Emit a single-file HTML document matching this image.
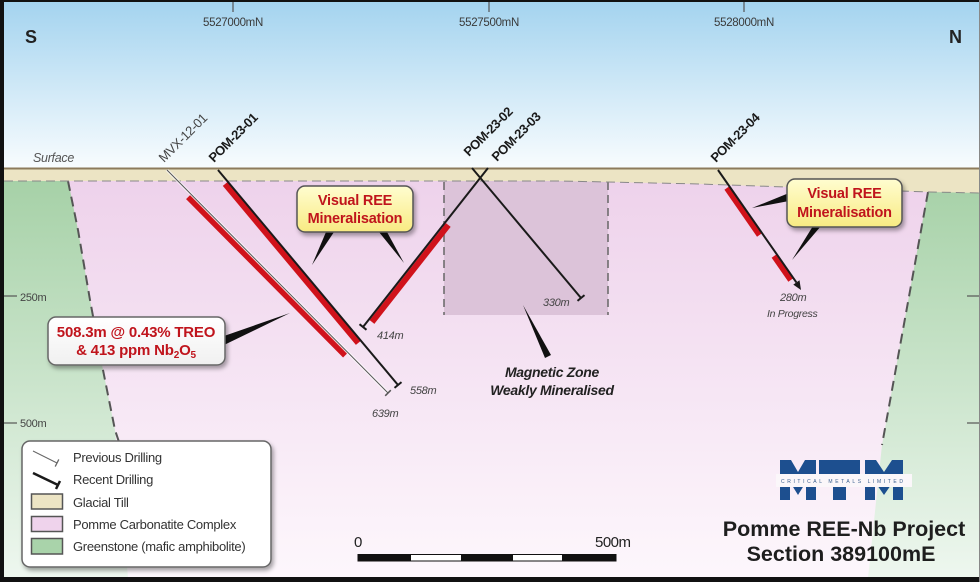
<!DOCTYPE html>
<html><head><meta charset="utf-8"><style>
html,body{margin:0;padding:0;background:#fff;}
svg{display:block;font-family:"Liberation Sans",Arial,sans-serif;}
</style></head><body>
<svg width="980" height="582" viewBox="0 0 980 582" xmlns="http://www.w3.org/2000/svg">
<defs>
<linearGradient id="sky" gradientUnits="userSpaceOnUse" x1="0" y1="0" x2="0" y2="168"><stop offset="0" stop-color="#a3d3ef"/><stop offset="1" stop-color="#f8fcfe"/></linearGradient>
<linearGradient id="pink" gradientUnits="userSpaceOnUse" x1="0" y1="180" x2="0" y2="577"><stop offset="0" stop-color="#eed2eb"/><stop offset="1" stop-color="#fdf7fc"/></linearGradient>
<linearGradient id="green" gradientUnits="userSpaceOnUse" x1="0" y1="180" x2="0" y2="577"><stop offset="0" stop-color="#a6d1a7"/><stop offset="1" stop-color="#eef7ef"/></linearGradient>
<linearGradient id="yel" x1="0" y1="0" x2="0" y2="1"><stop offset="0" stop-color="#fffdd0"/><stop offset="1" stop-color="#f8ea82"/></linearGradient>
<linearGradient id="wht" x1="0" y1="0" x2="0" y2="1"><stop offset="0" stop-color="#ffffff"/><stop offset="1" stop-color="#f0f0f0"/></linearGradient>
<filter id="sh" x="-20%" y="-20%" width="140%" height="150%"><feDropShadow dx="2" dy="3" stdDeviation="2" flood-color="#000" flood-opacity="0.35"/></filter>
</defs>

<!-- sky -->
<rect x="0" y="0" width="980" height="170" fill="url(#sky)"/>
<!-- pink ground -->
<rect x="0" y="178" width="980" height="400" fill="url(#pink)"/>
<!-- magnetic zone -->
<rect x="444" y="180" width="164" height="135" fill="#dcc3d9"/>
<line x1="444" y1="182" x2="444" y2="315" stroke="#666" stroke-width="1.5" stroke-dasharray="8,5"/>
<line x1="608" y1="182" x2="608" y2="315" stroke="#666" stroke-width="1.5" stroke-dasharray="8,5"/>
<!-- green left -->
<polygon points="4,180 68,180 78,230 90,300 103,370 115,430 128,578 4,578" fill="url(#green)"/>
<polyline points="68,181 78,230 90,300 103,370 115,430 120,445" fill="none" stroke="#555" stroke-width="2" stroke-dasharray="10,6"/>
<!-- green right -->
<polygon points="928,191 980,192 980,578 868,578 882,445" fill="url(#green)"/>
<line x1="928" y1="192" x2="882" y2="445" stroke="#555" stroke-width="2" stroke-dasharray="10,6"/>
<!-- till -->
<polygon points="4,168 980,168 980,193 930,192 700,184 560,181 4,181" fill="#ece4c4"/>
<polyline points="4,181 560,181 700,184 930,192 980,193" fill="none" stroke="#888" stroke-width="1" stroke-dasharray="9,5"/>
<line x1="4" y1="168.5" x2="980" y2="168.5" stroke="#8d7b5c" stroke-width="2"/>

<!-- top ticks and labels -->
<g stroke="#555" stroke-width="1.2">
<line x1="233" y1="2" x2="233" y2="12"/><line x1="489" y1="2" x2="489" y2="12"/><line x1="744" y1="2" x2="744" y2="12"/>
<line x1="4" y1="296" x2="17" y2="296"/><line x1="4" y1="423" x2="17" y2="423"/>
<line x1="967" y1="296" x2="980" y2="296"/><line x1="967" y1="423" x2="980" y2="423"/>
</g>
<g font-size="11.5" fill="#3a3a3a" text-anchor="middle" letter-spacing="-0.3">
<text x="233" y="26">5527000mN</text><text x="489" y="26">5527500mN</text><text x="744" y="26">5528000mN</text>
</g>
<g font-size="11" fill="#444" letter-spacing="-0.3">
<text x="20" y="301">250m</text><text x="20" y="427">500m</text>
</g>
<text x="25" y="43" font-size="18" font-weight="bold" fill="#222">S</text>
<text x="949" y="43" font-size="18" font-weight="bold" fill="#222">N</text>
<text x="33" y="162" font-size="12.5" font-style="italic" fill="#555" letter-spacing="-0.3">Surface</text>

<!-- drill labels -->
<text transform="translate(164,163) rotate(-45)" font-size="13" fill="#444" letter-spacing="-0.4">MVX-12-01</text>
<text transform="translate(214,163) rotate(-45)" font-size="13" font-weight="bold" fill="#1a1a1a" letter-spacing="-0.5">POM-23-01</text>
<text transform="translate(469,157) rotate(-45)" font-size="13" font-weight="bold" fill="#1a1a1a" letter-spacing="-0.5">POM-23-02</text>
<text transform="translate(497,162) rotate(-45)" font-size="13" font-weight="bold" fill="#1a1a1a" letter-spacing="-0.5">POM-23-03</text>
<text transform="translate(716,163) rotate(-45)" font-size="13" font-weight="bold" fill="#1a1a1a" letter-spacing="-0.5">POM-23-04</text>

<!-- red mineralised intervals -->
<g stroke="#d0121b" stroke-width="6">
<line x1="188.2" y1="197" x2="345.2" y2="355.4"/>
<line x1="225.1" y1="184" x2="358.2" y2="343"/>
<line x1="448.3" y1="225" x2="372" y2="322"/>
<line x1="726.9" y1="188" x2="759.5" y2="235"/>
<line x1="774.1" y1="256" x2="790.8" y2="280"/>
</g>

<!-- previous drilling MVX -->
<line x1="167" y1="170" x2="388" y2="393" stroke="#fff" stroke-width="3" opacity="0.7"/>
<line x1="167" y1="170" x2="388" y2="393" stroke="#555" stroke-width="1"/>
<line x1="385.2" y1="395.8" x2="390.8" y2="390.2" stroke="#555" stroke-width="1.5"/>
<!-- recent drilling -->
<g stroke="#1a1a1a" stroke-width="2">
<line x1="218" y1="170" x2="398" y2="385"/>
<line x1="394.5" y1="387.9" x2="401.5" y2="382.1"/>
<line x1="488" y1="168" x2="363" y2="327"/>
<line x1="366.5" y1="329.8" x2="359.5" y2="324.2"/>
<line x1="472" y1="168" x2="581" y2="298"/>
<line x1="577.5" y1="300.9" x2="584.5" y2="295.1"/>
<line x1="718" y1="170" x2="796.4" y2="282.4"/>
</g>
<polygon points="801,290 793.3,284.6 799.5,280.2" fill="#1a1a1a"/>

<!-- depth labels -->
<g font-size="11" font-style="italic" fill="#444" letter-spacing="-0.3">
<text x="377" y="339">414m</text>
<text x="410" y="394">558m</text>
<text x="372" y="417">639m</text>
<text x="543" y="306">330m</text>
<text x="780" y="301">280m</text>
<text x="767" y="317" font-size="10.5">In Progress</text>
</g>

<!-- pointers -->
<g fill="#111">
<polygon points="326,232 334,232 312,265"/>
<polygon points="379,232 387,232 404,263"/>
<polygon points="789,193 789,201 752,208"/>
<polygon points="813,226 821,226 792,260"/>
<polygon points="224,336 224,345 290,313"/>
<polygon points="523,305 545,358 551,355"/>
</g>

<!-- callout boxes -->
<rect x="297" y="186" width="116" height="46" rx="8" fill="url(#yel)" stroke="#555" stroke-width="1.5" filter="url(#sh)"/>
<g font-size="14.5" font-weight="bold" fill="#c0141c" text-anchor="middle" letter-spacing="-0.2">
<text x="355" y="205">Visual REE</text><text x="355" y="223">Mineralisation</text>
</g>
<rect x="787" y="179" width="115" height="48" rx="8" fill="url(#yel)" stroke="#555" stroke-width="1.5" filter="url(#sh)"/>
<g font-size="14.5" font-weight="bold" fill="#c0141c" text-anchor="middle" letter-spacing="-0.2">
<text x="844.5" y="198">Visual REE</text><text x="844.5" y="217">Mineralisation</text>
</g>
<rect x="48" y="317" width="177" height="48" rx="8" fill="url(#wht)" stroke="#666" stroke-width="1.5" filter="url(#sh)"/>
<g font-size="15" font-weight="bold" fill="#c0141c" text-anchor="middle" letter-spacing="-0.2">
<text x="136" y="337">508.3m @ 0.43% TREO</text>
<text x="136" y="355">&amp; 413 ppm Nb<tspan font-size="10" dy="3">2</tspan><tspan dy="-3">O</tspan><tspan font-size="10" dy="3">5</tspan></text>
</g>

<!-- magnetic zone label -->
<g font-size="14" font-weight="bold" font-style="italic" fill="#222" text-anchor="middle" letter-spacing="-0.3">
<text x="552" y="377">Magnetic Zone</text><text x="552" y="395">Weakly Mineralised</text>
</g>

<!-- legend -->
<rect x="22" y="441" width="249" height="126" rx="8" fill="#fff" stroke="#666" stroke-width="1.5" filter="url(#sh)"/>
<line x1="33" y1="451" x2="57" y2="463" stroke="#666" stroke-width="1"/>
<line x1="55.2" y1="466.6" x2="58.8" y2="459.4" stroke="#666" stroke-width="1.3"/>
<line x1="33" y1="473" x2="58" y2="485" stroke="#1a1a1a" stroke-width="2.5"/>
<line x1="56" y1="489" x2="60" y2="481" stroke="#1a1a1a" stroke-width="2.5"/>
<rect x="31.5" y="494" width="31" height="15" fill="#ece4c4" stroke="#555" stroke-width="1.5"/>
<rect x="31.5" y="516.5" width="31" height="15" fill="#efd3ec" stroke="#555" stroke-width="1.5"/>
<rect x="31.5" y="538.5" width="31" height="15.5" fill="#a9d3aa" stroke="#555" stroke-width="1.5"/>
<g font-size="13" fill="#333" letter-spacing="-0.3">
<text x="73" y="462">Previous Drilling</text>
<text x="73" y="484">Recent Drilling</text>
<text x="73" y="507">Glacial Till</text>
<text x="73" y="529">Pomme Carbonatite Complex</text>
<text x="73" y="551">Greenstone (mafic amphibolite)</text>
</g>

<!-- scale bar -->
<text x="354" y="547" font-size="15" fill="#222">0</text>
<text x="595" y="547" font-size="15" fill="#222" letter-spacing="-0.5">500m</text>
<rect x="358" y="554.5" width="258" height="6.5" fill="#fff" stroke="#111" stroke-width="1"/>
<rect x="358" y="554.5" width="53" height="6.5" fill="#111"/>
<rect x="461" y="554.5" width="52" height="6.5" fill="#111"/>
<rect x="562" y="554.5" width="54" height="6.5" fill="#111"/>

<!-- MTM logo -->
<g fill="#1d4f8f">
<path d="M780,500 V460 H791 L798,472 L805,460 H816 V500 H806 V482 L798,495 L790,482 V500 Z"/>
<rect x="819" y="460" width="41" height="15"/>
<rect x="833" y="460" width="13" height="40"/>
<path d="M865,500 V460 H876 L884,472 L892,460 H903 V500 H893 V482 L884,495 L875,482 V500 Z"/>
</g>
<rect x="776" y="474" width="136" height="13" fill="#fbf7fa"/>
<text x="781" y="483" font-size="5" fill="#3a5f8f" textLength="122" lengthAdjust="spacing">CRITICAL METALS LIMITED</text>

<!-- title -->
<g font-size="21.5" font-weight="bold" fill="#1e1e1e" text-anchor="middle">
<text x="844" y="536">Pomme REE-Nb Project</text>
<text x="841" y="561">Section 389100mE</text>
</g>

<!-- frame -->
<rect x="0" y="0" width="980" height="2" fill="#111"/>
<rect x="0" y="0" width="4" height="582" fill="#111"/>
<rect x="0" y="577" width="980" height="5" fill="#111"/>
<rect x="979" y="0" width="1" height="582" fill="#888"/>
</svg>
</body></html>
